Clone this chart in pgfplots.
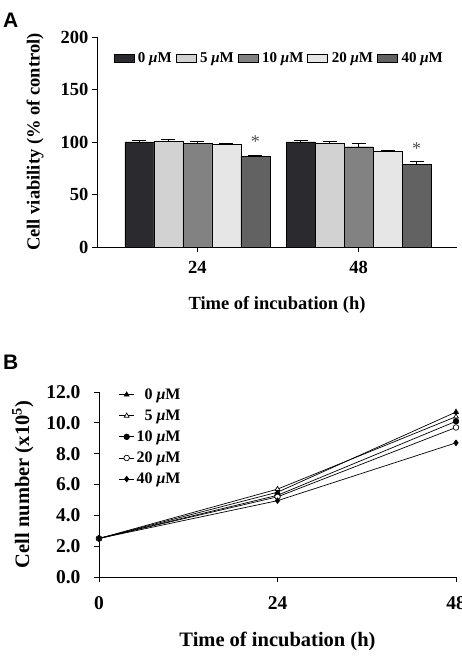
\documentclass[border=0pt]{standalone}
\usepackage{fontspec}
\setmainfont{Liberation Serif}
\newfontfamily\labelsans{Liberation Sans}
\usepackage{pgfplots}
\pgfplotsset{compat=1.18}
\definecolor{cA}{HTML}{2B2B2F}
\definecolor{cB}{HTML}{D2D2D2}
\definecolor{cC}{HTML}{828282}
\definecolor{cD}{HTML}{E6E6E6}
\definecolor{cE}{HTML}{626262}
\newcommand{\uM}{ \textit{μ}M}
\begin{document}
\begin{tikzpicture}
\useasboundingbox (0pt,0pt) rectangle (461pt,656pt);
\node[anchor=north west, font=\labelsans\bfseries\fontsize{21}{21}\selectfont, inner sep=0] at (3pt,643pt) {A};
\node[anchor=north west, font=\labelsans\bfseries\fontsize{21}{21}\selectfont, inner sep=0] at (3pt,301pt) {B};
% ---------------- Panel A
\begin{axis}[at={(97pt,409pt)}, anchor=south west, scale only axis,
  width=360pt, height=210pt,
  xmin=0.379, xmax=2.609, ymin=0, ymax=200,
  axis x line*=bottom, axis y line*=left, axis line style={-, line width=0.8pt},
  xtick={1,2}, xticklabels={24,48}, ytick={0,50,100,150,200},
  tick align=outside, major tick length=5pt, tick style={black, line width=0.8pt},
  /pgf/number format/assume math mode=true,
  ticklabel style={font=\bfseries\fontsize{18.5}{18.5}\selectfont},
  xticklabel style={yshift=-6pt},
  xlabel={Time of incubation (h)},
  ylabel={Cell viability (\% of control)},
  label style={font=\bfseries\fontsize{18.5}{18.5}\selectfont},
  xlabel style={at={(axis description cs:0.5,-0.276)}, anchor=center},
  ylabel style={at={(axis description cs:-0.172,0.5)}, anchor=center},
  ybar=0pt, bar width=29pt,
  legend columns=5,
  legend style={draw=none, fill=none, at={(axis description cs:0.506,0.9)}, anchor=center,
    font=\bfseries\fontsize{15}{15}\selectfont, inner sep=0pt,
    /tikz/every even column/.append style={column sep=2pt},
    /tikz/every odd column/.append style={column sep=2pt}},
  legend image code/.code={\draw[#1, draw=black] (0pt,-4pt) rectangle (20pt,4pt);},
  clip=false,
]
\addplot[fill=cA, draw=black, bar shift=-58pt, error bars/.cd, y dir=plus, y explicit, error bar style={black, line width=0.8pt}, error mark options={black, mark size=7pt, rotate=90}] coordinates {(1,100) +- (0,1.5) (2,100) +- (0,1.5)};
\addlegendentry{0\uM}
\addplot[fill=cB, draw=black, bar shift=-29pt, error bars/.cd, y dir=plus, y explicit, error bar style={black, line width=0.8pt}, error mark options={black, mark size=7pt, rotate=90}] coordinates {(1,101) +- (0,1.3) (2,99) +- (0,1.5)};
\addlegendentry{5\uM}
\addplot[fill=cC, draw=black, bar shift=0pt, error bars/.cd, y dir=plus, y explicit, error bar style={black, line width=0.8pt}, error mark options={black, mark size=7pt, rotate=90}] coordinates {(1,98.5) +- (0,2) (2,95.5) +- (0,3.5)};
\addlegendentry{10\uM}
\addplot[fill=cD, draw=black, bar shift=29pt, error bars/.cd, y dir=plus, y explicit, error bar style={black, line width=0.8pt}, error mark options={black, mark size=7pt, rotate=90}] coordinates {(1,97.5) +- (0,1) (2,91) +- (0,1.2)};
\addlegendentry{20\uM}
\addplot[fill=cE, draw=black, bar shift=58pt, error bars/.cd, y dir=plus, y explicit, error bar style={black, line width=0.8pt}, error mark options={black, mark size=7pt, rotate=90}] coordinates {(1,86.5) +- (0,0.8) (2,78.5) +- (0,3.5)};
\addlegendentry{40\uM}
\node[font=\fontsize{18}{18}\selectfont, text=gray!60!black] at ([xshift=58pt]axis cs:1,100) {*};
\node[font=\fontsize{18}{18}\selectfont, text=gray!60!black] at ([xshift=58pt]axis cs:2,94) {*};
\end{axis}
% ---------------- Panel B
\begin{axis}[at={(99pt,79pt)}, anchor=south west, scale only axis,
  width=357pt, height=185pt,
  xmin=0, xmax=48, ymin=0, ymax=12,
  axis x line*=bottom, axis y line*=left, axis line style={-, line width=0.8pt},
  xtick={0,24,48}, ytick={0,2,4,6,8,10,12},
  tick align=outside, major tick length=5pt, tick style={black, line width=0.8pt},
  /pgf/number format/assume math mode=true,
  yticklabel style={/pgf/number format/fixed, /pgf/number format/fixed zerofill, /pgf/number format/precision=1, xshift=-10pt},
  ticklabel style={font=\bfseries\fontsize{19.5}{19.5}\selectfont},
  xticklabel style={yshift=-11pt},
  xlabel={Time of incubation (h)},
  ylabel={Cell number (x10\textsuperscript{5})},
  label style={font=\bfseries\fontsize{20.5}{20.5}\selectfont},
  xlabel style={at={(axis description cs:0.5,-0.351)}, anchor=center},
  ylabel style={at={(axis description cs:-0.213,0.5)}, anchor=center},
  legend cell align=right,
  legend style={draw=none, fill=none, at={(axis description cs:0.055,1.03)}, anchor=north west,
    font=\bfseries\fontsize{16}{16}\selectfont, inner sep=0pt, row sep=5pt,
    /tikz/every even column/.append style={column sep=3pt}},
  legend image code/.code={\draw[#1] (0pt,0pt) -- (15pt,0pt); \draw[#1] plot coordinates {(7.5pt,0pt)};},
  every axis plot/.append style={black, line width=0.7pt, mark size=2.8pt},
  clip=false,
]
\addplot[mark=triangle*, mark options={fill=black}] coordinates {(0,2.5) (24,5.5) (48,10.7)};
\addlegendentry{0\uM}
\addplot[mark=triangle*, mark options={fill=white}] coordinates {(0,2.5) (24,5.7) (48,10.4)};
\addlegendentry{5\uM}
\addplot[mark=*, mark options={fill=black}] coordinates {(0,2.5) (24,5.3) (48,10.1)};
\addlegendentry{10\uM}
\addplot[mark=*, mark options={fill=white}] coordinates {(0,2.5) (24,5.2) (48,9.7)};
\addlegendentry{20\uM}
\addplot[mark=diamond*, mark options={fill=black}] coordinates {(0,2.5) (24,4.95) (48,8.7)};
\addlegendentry{40\uM}
\end{axis}
\end{tikzpicture}
\end{document}
